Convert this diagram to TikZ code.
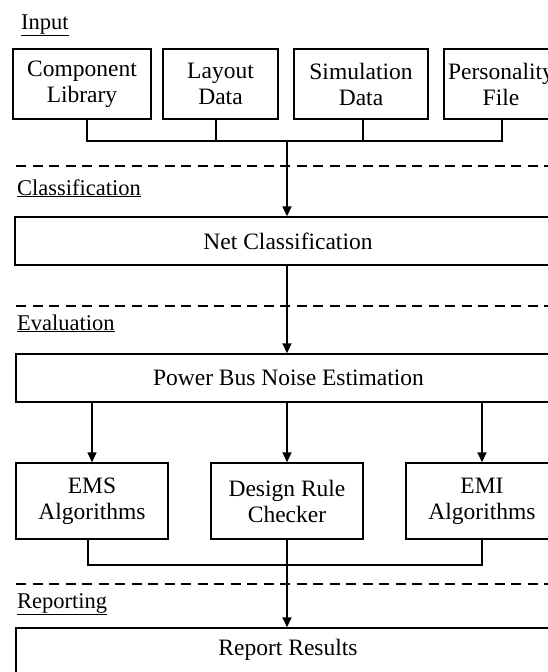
\documentclass[tikz,border=0pt]{standalone}
\usepackage{fontspec}
\setmainfont{Liberation Serif}
\usetikzlibrary{arrows.meta}
\begin{document}
\begin{tikzpicture}[x=1pt,y=1pt,
  box/.style={draw, line width=1.4pt, inner sep=0pt, align=center,
    font=\fontsize{23.5}{26}\selectfont},
  lbl/.style={anchor=base west, inner sep=0pt, font=\fontsize{22.5}{26}\selectfont},
  conn/.style={line width=1.6pt},
  arr/.style={line width=1.6pt, -{Triangle[length=10pt,width=9pt]}},
  sep/.style={line width=2.6pt, dash pattern=on 10pt off 6.5pt}]
\useasboundingbox (0,0) rectangle (548,-672);
\clip (0,0) rectangle (548,-672);
% section labels
\node[lbl] (linput) at (21,-29) {\underline{Input}};
\node[lbl] (lclass) at (17,-195) {\underline{Classification}};
\node[lbl] (leval) at (17,-330) {\underline{Evaluation}};
\node[lbl] (lrep) at (17,-608) {\underline{Reporting}};
% separators
\coordinate (s1a) at (16,-166); \coordinate (s1b) at (560,-166);
\coordinate (s2a) at (16,-306); \coordinate (s2b) at (560,-306);
\coordinate (s3a) at (16,-584); \coordinate (s3b) at (560,-584);
\draw[sep] (s1a) -- (s1b);
\draw[sep] (s2a) -- (s2b);
\draw[sep] (s3a) -- (s3b);
% input boxes
\node[box, minimum width=138pt, minimum height=70pt] (b1) at (82,-84) {Component\\Library};
\node[box, minimum width=115pt, minimum height=70pt] (b2) at (220.5,-84) {Layout\\Data};
\node[box, minimum width=134pt, minimum height=70pt] (b3) at (361,-84) {Simulation\\Data};
\node[box, minimum width=114pt, minimum height=70pt] (b4) at (501,-84) {Personality\\File};
% wide boxes
\node[box, minimum width=546pt, minimum height=48pt] (net) at (288,-241) {Net Classification};
\node[box, minimum width=545pt, minimum height=48pt] (pb) at (288.5,-378) {Power Bus Noise Estimation};
% lower boxes
\node[box, minimum width=152pt, minimum height=76pt] (ems) at (92,-501) {EMS\\Algorithms};
\node[box, minimum width=152pt, minimum height=76pt] (drc) at (287,-501) {Design Rule\\Checker};
\node[box, minimum width=152pt, minimum height=76pt] (emi) at (482,-501) {EMI\\Algorithms};
\node[box, minimum width=545pt, minimum height=90pt] (rep) at (288.5,-673) {};
\node[font=\fontsize{23.5}{26}\selectfont, inner sep=0pt] (reptxt) at (288,-650) {Report Results};
% input bus
\coordinate (j1) at (87,-141);
\coordinate (j2) at (216,-141);
\coordinate (jc) at (287,-141);
\coordinate (j3) at (363,-141);
\coordinate (j4) at (502,-141);
\draw[conn] (b1.south -| j1) -- (j1) -- (j4) -- (b4.south -| j4);
\draw[conn] (b2.south -| j2) -- (j2);
\draw[conn] (b3.south -| j3) -- (j3);
\draw[arr] (jc) -- (net.north -| jc);
\draw[arr] (net.south -| jc) -- (pb.north -| jc);
% evaluation fan-out
\draw[arr] (pb.south -| ems) -- (ems.north);
\draw[arr] (pb.south -| drc) -- (drc.north);
\draw[arr] (pb.south -| emi) -- (emi.north);
% lower bus
\coordinate (k1) at (88,-565);
\coordinate (kc) at (287,-565);
\coordinate (k3) at (482,-565);
\draw[conn] (ems.south -| k1) -- (k1) -- (k3) -- (emi.south -| k3);
\draw[conn] (drc.south) -- (kc);
\draw[arr] (kc) -- (rep.north -| kc);
\end{tikzpicture}
\end{document}
